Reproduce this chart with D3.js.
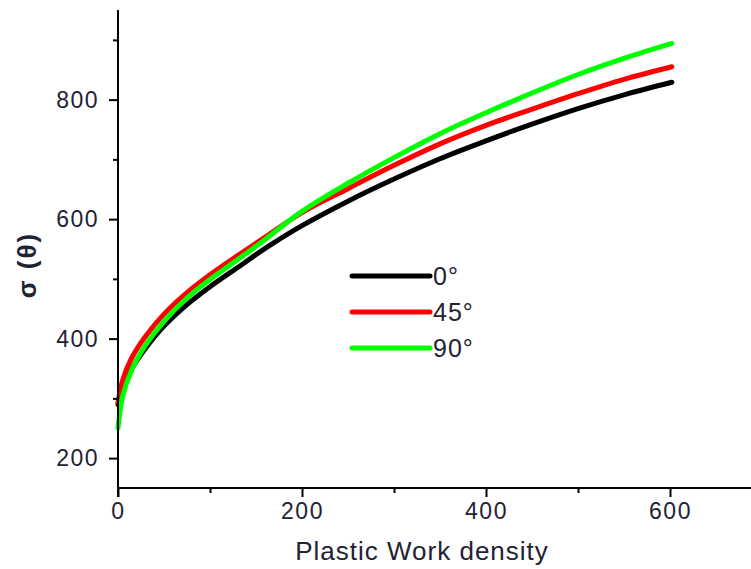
<!DOCTYPE html>
<html>
<head>
<meta charset="utf-8">
<script src="https://cdn.jsdelivr.net/npm/d3@7"></script>
<style>
  html, body { margin: 0; padding: 0; background: #fff; }
  svg { display: block; }
  text { font-family: "Liberation Sans", Arial, sans-serif; }
</style>
</head>
<body>
<svg id="chart" width="751" height="569"></svg>
<script>
// ---- data ----
const xValues   = [0,   5,   15,  30,  50,  75,  100, 130, 160, 200, 250, 300, 350, 400, 450, 500, 550, 602];
const black0    = [290, 318, 350, 384, 421, 457, 487, 519, 551, 589, 630, 667, 701, 731, 759, 785, 808, 829];
const red45     = [293, 330, 368, 404, 441, 477, 507, 539, 570, 611, 651, 690, 726, 757, 784, 810, 834, 855];
const green90   = [250, 303, 348, 389, 429, 468, 499, 532, 566, 613, 660, 703, 743, 778, 811, 842, 869, 894];
const seriesNames  = ["0°", "45°", "90°"];
const seriesColors = ["#000000", "#ff0000", "#00ff00"];
const xMajorTicks = [0, 200, 400, 600];
const xMinorTicks = [100, 300, 500, 700];
const yMajorTicks = [200, 400, 600, 800];
const yMinorTicks = [300, 500, 700, 900];
const xLabel = "Plastic Work density";
const yLabel = "σ (θ)";

const series = [black0, red45, green90].map((vals, i) => ({
  name: seriesNames[i], color: seriesColors[i],
  points: xValues.map((x, j) => [x, vals[j]])
}));

// ---- layout ----
const svg = d3.select("#chart");
const x = d3.scaleLinear().domain([0, 700]).range([118, 762]);
const y = d3.scaleLinear().domain([150, 950]).range([488, 10]);
const textColor = "#222233";

// lines (drawn first so axes sit on top)
const line = d3.line().x(d => x(d[0])).y(d => y(d[1])).curve(d3.curveCatmullRom.alpha(0.5));
svg.append("g").selectAll("path").data(series).join("path")
  .attr("d", d => line(d.points))
  .attr("fill", "none")
  .attr("stroke", d => d.color)
  .attr("stroke-width", 5)
  .attr("stroke-linecap", "round")
  .attr("stroke-linejoin", "round");

// x axis
const xAxis = svg.append("g").attr("transform", `translate(0,${y.range()[0]})`);
xAxis.call(d3.axisBottom(x).tickValues(xMajorTicks).tickSize(9).tickPadding(6).tickFormat(d3.format("d")));
xAxis.append("g").call(d3.axisBottom(x).tickValues(xMinorTicks).tickSize(5).tickFormat(""));
xAxis.selectAll(".domain").attr("stroke", "#000").attr("stroke-width", 2);
xAxis.selectAll(".tick line").attr("stroke", "#000").attr("stroke-width", 2);
xAxis.selectAll(".domain").attr("d", `M${x(0)},0H751`);
xAxis.selectAll("text").attr("font-size", 23).attr("letter-spacing", 1.5).attr("fill", textColor)
  .attr("font-family", "Liberation Sans, Arial, sans-serif");

// y axis
const yAxis = svg.append("g").attr("transform", `translate(${x(0)},0)`);
yAxis.call(d3.axisLeft(y).tickValues(yMajorTicks).tickSize(9).tickPadding(10).tickFormat(d3.format("d")));
yAxis.append("g").call(d3.axisLeft(y).tickValues(yMinorTicks).tickSize(5).tickFormat(""));
yAxis.selectAll(".domain").attr("stroke", "#000").attr("stroke-width", 2)
  .attr("d", `M0,${y(950)}V${y(150) + 9}`);
yAxis.selectAll(".tick line").attr("stroke", "#000").attr("stroke-width", 2);
yAxis.selectAll("text").attr("font-size", 23).attr("letter-spacing", 1.5).attr("fill", textColor)
  .attr("font-family", "Liberation Sans, Arial, sans-serif");

// axis titles
svg.append("text")
  .attr("x", 422).attr("y", 560)
  .attr("text-anchor", "middle")
  .attr("font-size", 26)
  .attr("letter-spacing", 1)
  .attr("fill", textColor)
  .text(xLabel);

svg.append("text")
  .attr("transform", "translate(36,265) rotate(-90)")
  .attr("text-anchor", "middle")
  .attr("font-size", 26)
  .attr("letter-spacing", 2)
  .attr("font-weight", "bold")
  .attr("fill", textColor)
  .text(yLabel);

// legend
const legend = svg.append("g").selectAll("g").data(series).join("g")
  .attr("transform", (d, i) => `translate(352,${276 + i * 36})`);
legend.append("line")
  .attr("x1", 0).attr("x2", 78).attr("y1", 0).attr("y2", 0)
  .attr("stroke", d => d.color).attr("stroke-width", 5).attr("stroke-linecap", "round");
legend.append("text")
  .attr("x", 81).attr("y", 9)
  .attr("font-size", 25)
  .attr("letter-spacing", 1)
  .attr("fill", textColor)
  .text(d => d.name);
</script>
</body>
</html>
